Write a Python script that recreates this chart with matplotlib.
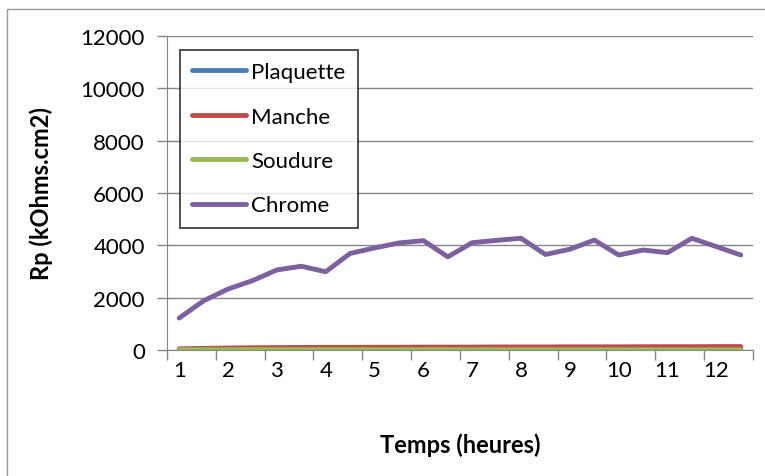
import matplotlib.pyplot as plt
import numpy as np
from matplotlib.patches import Rectangle

# data: 24 readings, every half hour from 1 h to 12.5 h
hours = ['1', '', '2', '', '3', '', '4', '', '5', '', '6', '', '7', '', '8', '', '9', '', '10', '', '11', '', '12', '']
plaquette = [30, 40, 45, 50, 55, 55, 60, 60, 60, 60, 60, 60, 60, 60, 60, 60, 60, 60, 60, 60, 60, 60, 60, 60]
manche = [40, 60, 75, 85, 90, 95, 100, 100, 105, 105, 110, 110, 110, 115, 115, 115, 120, 120, 120, 125, 125, 125, 130, 130]
soudure = [10, 12, 12, 14, 14, 15, 15, 15, 15, 15, 15, 15, 12, 12, 12, 12, 12, 10, 10, 10, 10, 10, 10, 10]
chrome = [1220, 1880, 2330, 2650, 3060, 3200, 2990, 3690, 3900, 4090, 4180, 3560, 4100, 4190, 4270, 3650,
          3850, 4200, 3630, 3820, 3720, 4270, 3950, 3630]

plt.rcParams['font.family'] = ['Lato', 'DejaVu Sans']

fig = plt.figure(figsize=(7.65, 4.77), dpi=100)
ax = fig.add_axes([0.2183, 0.2642, 0.7660, 0.6582])

x = np.arange(len(chrome))
ax.plot(x, plaquette, color='#4A7EBB', lw=3.5, label='Plaquette', solid_capstyle='round')
ax.plot(x, manche, color='#BE4B48', lw=3.5, label='Manche', solid_capstyle='round')
ax.plot(x, soudure, color='#98B954', lw=3.5, label='Soudure', solid_capstyle='round')
ax.plot(x, chrome, color='#7D60A0', lw=3.5, label='Chrome', solid_capstyle='round')

ax.set_xlim(-0.5, len(chrome) - 0.5)
ax.set_ylim(0, 12000)
ax.set_yticks(np.arange(0, 12001, 2000))
ax.grid(axis='y', color='#868686', lw=1)
ax.set_axisbelow(True)

# labels on every other category, tick marks on the boundaries
ax.set_xticks(x[::2])
ax.set_xticklabels(hours[::2])
ax.set_xticks(np.arange(-0.5, len(chrome), 2), minor=True)
ax.tick_params(axis='x', which='major', length=0, pad=7, labelsize=16)
ax.tick_params(axis='x', which='minor', length=7, color='#868686', width=1)
ax.tick_params(axis='y', length=7, color='#868686', width=1, labelsize=16, pad=9)

for s in ['top', 'right']:
    ax.spines[s].set_visible(False)
for s in ['left', 'bottom']:
    ax.spines[s].set_color('#868686')

ax.set_xlabel('Temps (heures)', fontsize=17, fontweight='bold', labelpad=38)
ax.set_ylabel('Rp (kOhms.cm2)', fontsize=17, fontweight='bold', labelpad=20)

leg = ax.legend(loc='upper left', bbox_to_anchor=(0.015, 0.97), fontsize=16, frameon=True,
                fancybox=False, edgecolor='black', handlelength=2.4, handletextpad=0.25,
                labelspacing=1.1, borderpad=0.55, borderaxespad=0.2)
leg.get_frame().set_linewidth(1.2)

# chart border
fig.patches.append(Rectangle((0.009, -0.05), 1.2, 1.03, transform=fig.transFigure,
                             fill=False, edgecolor='#9a9a9a', lw=1))

fig.savefig('out.png', dpi=100)
